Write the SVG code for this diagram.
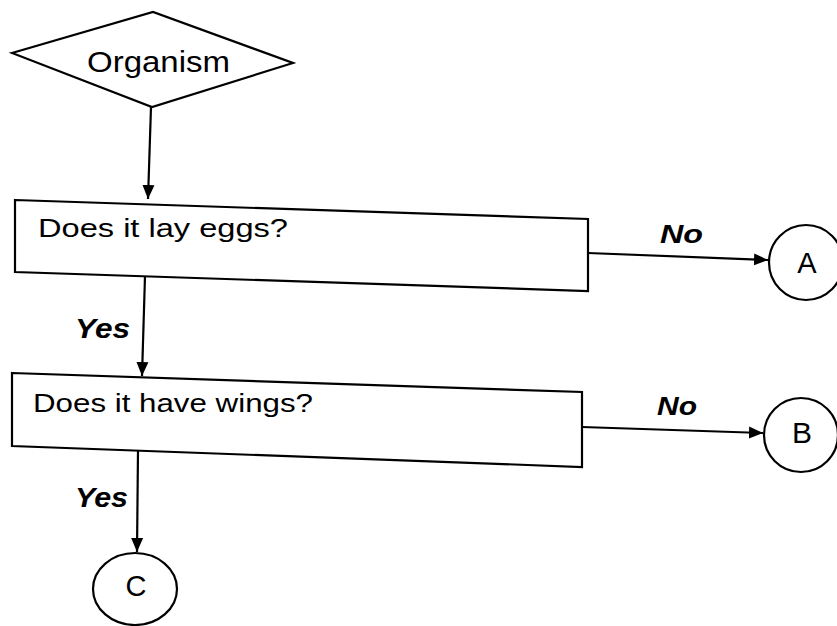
<svg xmlns="http://www.w3.org/2000/svg" width="837" height="626" viewBox="0 0 837 626">
<defs>
<style>
.shape{fill:#fff;stroke:#000;stroke-width:2.2}
.edge{fill:none;stroke:#000;stroke-width:2.2}
.t{font-family:"Liberation Sans",Arial,sans-serif;fill:#000}
.lbl{font-family:"Liberation Sans",Arial,sans-serif;font-weight:bold;font-style:italic;fill:#000}
</style>
<marker id="arr" markerUnits="userSpaceOnUse" markerWidth="16" markerHeight="14" refX="14" refY="7" orient="auto">
<path d="M0,1 L14,7 L0,13 z" fill="#000"/>
</marker>
</defs>
<rect width="837" height="626" fill="#fff"/>
<g id="connectors">
<path class="edge" d="M151,107 L148,199" marker-end="url(#arr)"/>
<path class="edge" d="M145,276 L142,376" marker-end="url(#arr)"/>
<path class="edge" d="M138,450 L137,552" marker-end="url(#arr)"/>
<path class="edge" d="M588,253 L768,260" marker-end="url(#arr)"/>
<path class="edge" d="M582,427 L763,433" marker-end="url(#arr)"/>
<text class="lbl" x="660" y="243" font-size="25" textLength="43" lengthAdjust="spacingAndGlyphs">No</text>
<text class="lbl" x="657" y="415" font-size="25" textLength="40" lengthAdjust="spacingAndGlyphs">No</text>
<text class="lbl" x="75" y="338" font-size="28" textLength="55" lengthAdjust="spacingAndGlyphs">Yes</text>
<text class="lbl" x="75" y="507" font-size="27" textLength="53" lengthAdjust="spacingAndGlyphs">Yes</text>
</g>
<g id="organism">
<polygon class="shape" points="12,53 153,12 293,63 152,107"/>
<text class="t" x="87" y="72" font-size="30" textLength="143" lengthAdjust="spacingAndGlyphs">Organism</text>
</g>
<g id="q1">
<polygon class="shape" points="15,200 588,219 588,291 15,272"/>
<text class="t" x="38" y="237" font-size="26" textLength="250" lengthAdjust="spacingAndGlyphs">Does it lay eggs?</text>
</g>
<g id="q2">
<polygon class="shape" points="12,373 582,392 582,467 12,446"/>
<text class="t" x="33" y="412" font-size="26" textLength="280" lengthAdjust="spacingAndGlyphs">Does it have wings?</text>
</g>
<g id="A">
<ellipse class="shape" cx="806" cy="262.5" rx="37" ry="37.5"/>
<text class="t" x="807" y="273" font-size="29" text-anchor="middle">A</text>
</g>
<g id="B">
<ellipse class="shape" cx="801" cy="435" rx="37" ry="37"/>
<text class="t" x="802" y="443" font-size="30" text-anchor="middle">B</text>
</g>
<g id="C">
<ellipse class="shape" cx="135" cy="589" rx="42" ry="36"/>
<text class="t" x="136" y="596" font-size="29" text-anchor="middle">C</text>
</g>
</svg>
